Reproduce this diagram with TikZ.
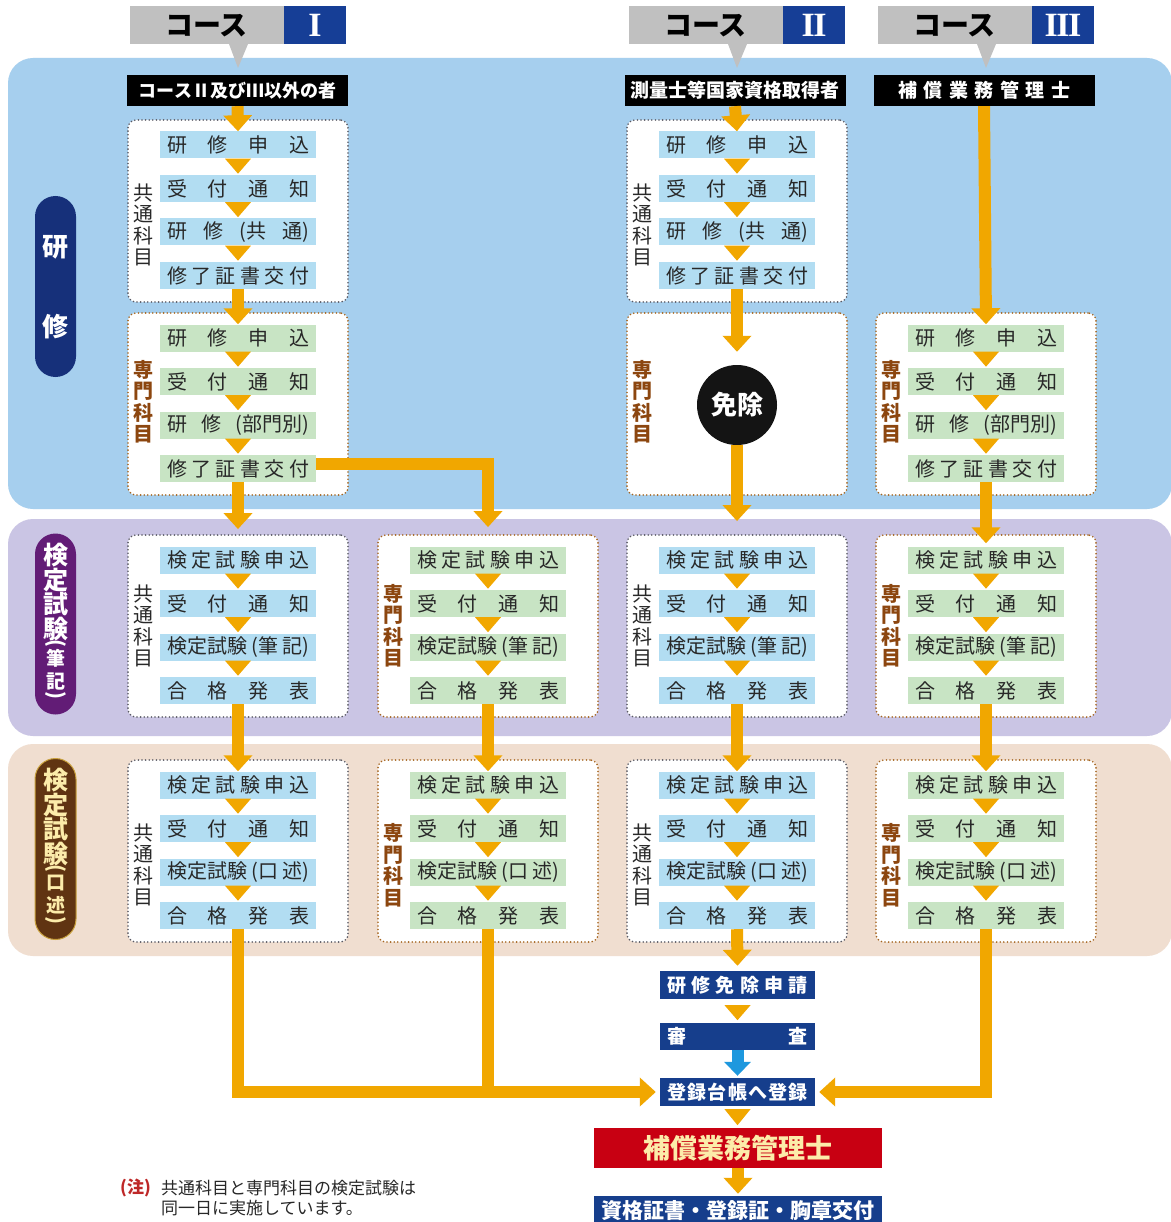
\documentclass[tikz,border=0pt]{standalone}
\usepackage{fontspec}
\setmainfont{Noto Sans CJK JP}
\newfontfamily\romfont{Liberation Serif}
\usetikzlibrary{arrows.meta,calc,shapes.geometric}
\definecolor{bandblue}{RGB}{166,207,238}
\definecolor{bandpurple}{RGB}{202,197,228}
\definecolor{bandtan}{RGB}{240,222,208}
\definecolor{itemblue}{RGB}{178,221,242}
\definecolor{itemgreen}{RGB}{200,228,196}
\definecolor{orng}{RGB}{241,167,0}
\definecolor{navy}{RGB}{22,48,122}
\definecolor{pillpurple}{RGB}{98,28,118}
\definecolor{pillbrown}{RGB}{96,52,18}
\definecolor{pillgold}{RGB}{200,160,60}
\definecolor{cream}{RGB}{252,236,170}
\definecolor{tabgray}{RGB}{192,192,192}
\definecolor{tabblue}{RGB}{22,62,150}
\definecolor{boxblue}{RGB}{22,62,140}
\definecolor{boxred}{RGB}{200,0,18}
\definecolor{skyb}{RGB}{30,152,222}
\definecolor{dotgray}{RGB}{90,90,100}
\definecolor{dotbrown}{RGB}{165,100,30}
\definecolor{labbrown}{RGB}{140,70,15}
\definecolor{txt}{RGB}{40,40,40}
\definecolor{notered}{RGB}{190,40,40}
\newcommand\sprd[2][142pt]{\makebox[#1][s]{#2}}
\newcommand\iKenMo{\sprd{研\hfill 修\hfill 申\hfill 込}}
\newcommand\iUke{\sprd{受\hfill 付\hfill 通\hfill 知}}
\newcommand\iKenKyo{\sprd{研\hfill 修\hfill (共\hfill 通)}}
\newcommand\iKenBu{\sprd{研\hfill 修\hfill (部門別)}}
\newcommand\iShu{\sprd{修\hfill 了\hfill 証\hfill 書\hfill 交\hfill 付}}
\newcommand\iKeMo{\sprd{検\hfill 定\hfill 試\hfill 験\hfill 申\hfill 込}}
\newcommand\iHik{\sprd{検定試験\hfill (筆\hfill 記)}}
\newcommand\iKou{\sprd{検定試験\hfill (口\hfill 述)}}
\newcommand\iGo{\sprd{合\hfill 格\hfill 発\hfill 表}}
\newcommand\labCtext{共\\通\\科\\目}
\newcommand\labStext{専\\門\\科\\目}
% #1 name, #2 cx, #3 top, #4 kind C/S, #5 label offset, #6-#9 items
\newcommand\grp[9]{%
  \node[grp#4] (#1) at (#2,#3+91) {};
  \node[lab#4] (#1-lab) at (#2-95,#3+#5) {\csname lab#4text\endcsname};
  \node[item#4] (#1-1) at (#2,#3+25) {#6};
  \node[item#4] (#1-2) at (#2,#3+68.5) {#7};
  \node[item#4] (#1-3) at (#2,#3+112) {#8};
  \node[item#4] (#1-4) at (#2,#3+155.5) {#9};
  \foreach \k in {1,2,3}{\fill[orng] ($(#1-\k.south)+(-13,0)$) -- ($(#1-\k.south)+(13,0)$) -- ($(#1-\k.south)+(0,15)$) -- cycle;}
}
\begin{document}
\begin{tikzpicture}[x=1pt,y=-1pt,
  itemC/.style={fill=itemblue, minimum width=156pt, minimum height=27pt, inner sep=0pt, text=txt, font=\fontsize{20}{20}\selectfont},
  itemS/.style={itemC, fill=itemgreen},
  grpC/.style={draw=dotgray, fill=white, line width=1.8pt, dash pattern=on 0pt off 3.6pt, line cap=round, rounded corners=8pt, minimum width=220pt, minimum height=182pt, inner sep=0pt},
  grpS/.style={grpC, draw=dotbrown},
  labC/.style={align=center, text=txt, font=\fontsize{20}{21.5}\selectfont, inner sep=0pt},
  labS/.style={labC, text=labbrown, font=\fontsize{20}{21.5}\selectfont\bfseries},
  oarr/.style={draw=orng, line width=12pt, -{Triangle[length=16pt,width=28pt]}},
  oline/.style={draw=orng, line width=12pt},
  tabg/.style={fill=tabgray, minimum width=154pt, minimum height=38pt, inner sep=0pt, text=black, font=\fontsize{28}{28}\selectfont\bfseries},
  tabb/.style={fill=tabblue, minimum width=62pt, minimum height=38pt, inner sep=0pt, text=white, font=\fontsize{34}{34}\selectfont},
  bar/.style={fill=black, minimum width=221pt, minimum height=31pt, inner sep=0pt, text=white, font=\fontsize{19}{19}\selectfont\bfseries},
  pill/.style={rounded corners=20.5pt, minimum width=41pt, minimum height=181pt, inner sep=0pt},
  pilltxt/.style={inner sep=0pt, align=center},
  bbox/.style={fill=boxblue, text=white, inner sep=0pt, font=\fontsize{19}{19}\selectfont\bfseries},
  notetxt/.style={anchor=west, inner sep=0pt, text=txt, font=\fontsize{17}{17}\selectfont}
]
\useasboundingbox (0,0) rectangle (1170,1222);
\fill[white] (0,0) rectangle (1170,1222);
% bands
\fill[bandblue, rounded corners=25pt] (8,58) rectangle (1172,509);
\fill[bandpurple, rounded corners=25pt] (8,519) rectangle (1172,736);
\fill[bandtan, rounded corners=25pt] (8,744) rectangle (1172,956);
% pills
\node[pill, fill=navy] (pill1) at (55.5,286.5) {};
\node[pilltxt, text=white, font=\fontsize{26}{26}\selectfont\bfseries] (p1a) at (55.5,247) {研};
\node[pilltxt, text=white, font=\fontsize{26}{26}\selectfont\bfseries] (p1b) at (55.5,327) {修};
\node[pill, fill=pillpurple] (pill2) at (55.5,624) {};
\node[pilltxt, text=white, font=\fontsize{25}{24.5}\selectfont\bfseries] (p2a) at (55.5,592) {検\\定\\試\\験};
\node[pilltxt, text=white, font=\fontsize{20}{20}\selectfont\bfseries] (p2o) at (55.5,645) {\rotatebox[origin=c]{-90}{(}};
\node[pilltxt, text=white, font=\fontsize{19}{23}\selectfont\bfseries] (p2b) at (55.5,670) {筆\\記};
\node[pilltxt, text=white, font=\fontsize{20}{20}\selectfont\bfseries] (p2c) at (55.5,697) {\rotatebox[origin=c]{-90}{)}};
\node[pill, fill=pillbrown, draw=pillgold, line width=1pt] (pill3) at (55.5,849) {};
\node[pilltxt, text=cream, font=\fontsize{25}{24.5}\selectfont\bfseries] (p3a) at (55.5,817) {検\\定\\試\\験};
\node[pilltxt, text=cream, font=\fontsize{20}{20}\selectfont\bfseries] (p3o) at (55.5,870) {\rotatebox[origin=c]{-90}{(}};
\node[pilltxt, text=cream, font=\fontsize{19}{23}\selectfont\bfseries] (p3b) at (55.5,895) {口\\述};
\node[pilltxt, text=cream, font=\fontsize{20}{20}\selectfont\bfseries] (p3c) at (55.5,922) {\rotatebox[origin=c]{-90}{)}};
% course tabs
\node[tabg] (t1g) at (206.5,25.5) {コース};
\node[tabb] (t1b) at (315,25.5) {\romfont\bfseries I};
\fill[tabgray] (229,44) -- (248,44) -- (238,68) -- cycle;
\node[tabg] (t2g) at (705.5,25.5) {コース};
\node[tabb] (t2b) at (814,25.5) {\romfont\bfseries I\kern-1.5pt I};
\fill[tabgray] (728,44) -- (747,44) -- (737,68) -- cycle;
\node[tabg] (t3g) at (954.5,25.5) {コース};
\node[tabb] (t3b) at (1063,25.5) {\romfont\bfseries I\kern-1.5pt I\kern-1.5pt I};
\fill[tabgray] (977,44) -- (996,44) -- (986,68) -- cycle;
% black bars
\node[bar, font=\fontsize{18}{18}\selectfont\bfseries] (bar1) at (237.5,90.5) {コースⅡ及びⅢ以外の者};
\node[bar] (bar2) at (735,90.5) {測量士等国家資格取得者};
\node[bar] (bar3) at (984,90.5) {\sprd[172pt]{補\hfill 償\hfill 業\hfill 務\hfill 管\hfill 理\hfill 士}};
% groups
\grp{c1a}{238}{120}{C}{105}{\iKenMo}{\iUke}{\iKenKyo}{\iShu}
\grp{c1b}{238}{313}{S}{89}{\iKenMo}{\iUke}{\iKenBu}{\iShu}
\grp{c1c}{238}{535}{C}{91}{\iKeMo}{\iUke}{\iHik}{\iGo}
\grp{c1d}{238}{760}{C}{105}{\iKeMo}{\iUke}{\iKou}{\iGo}
\grp{c2c}{488}{535}{S}{91}{\iKeMo}{\iUke}{\iHik}{\iGo}
\grp{c2d}{488}{760}{S}{105}{\iKeMo}{\iUke}{\iKou}{\iGo}
\grp{c3a}{737}{120}{C}{105}{\iKenMo}{\iUke}{\iKenKyo}{\iShu}
\node[grpS] (c3b) at (737,404) {};
\node[labS] (c3b-lab) at (642,402) {\labStext};
\grp{c3c}{737}{535}{C}{91}{\iKeMo}{\iUke}{\iHik}{\iGo}
\grp{c3d}{737}{760}{C}{105}{\iKeMo}{\iUke}{\iKou}{\iGo}
\grp{c4b}{986}{313}{S}{89}{\iKenMo}{\iUke}{\iKenBu}{\iShu}
\grp{c4c}{986}{535}{S}{91}{\iKeMo}{\iUke}{\iHik}{\iGo}
\grp{c4d}{986}{760}{S}{105}{\iKeMo}{\iUke}{\iKou}{\iGo}
\node[circle, fill=black!92, minimum size=80pt, inner sep=0pt, text=white, font=\fontsize{26}{26}\selectfont\bfseries] (menjo) at (737,405) {免除};
% bottom boxes
\node[bbox, minimum width=155pt, minimum height=28pt] (menreq) at (737.5,985) {\sprd[140pt]{研\hfill 修\hfill 免\hfill 除\hfill 申\hfill 請}};
\node[bbox, minimum width=155pt, minimum height=27pt] (shinsa) at (737.5,1036.5) {\sprd[140pt]{審\hfill 査}};
\node[bbox, minimum width=155pt, minimum height=28pt] (reg) at (737.5,1092) {\sprd[140pt]{登\hfill 録\hfill 台\hfill 帳\hfill へ\hfill 登\hfill 録}};
\node[fill=boxred, minimum width=288pt, minimum height=40pt, inner sep=0pt, text=cream, font=\fontsize{27}{27}\selectfont\bfseries] (qual) at (738,1148) {補償業務管理士};
\node[bbox, minimum width=288pt, minimum height=30pt, font=\fontsize{21}{21}\selectfont\bfseries] (cert) at (738,1211) {資格証書・登録証・胸章交付};
% arrows column 1
\draw[oarr] (bar1.south) -- (c1a-1.north);
\draw[oarr] (c1a-4.south) -- (c1b-1.north);
\draw[oarr] (c1b-4.south) -- ($(c1c.north)+(0,-5)$);
\draw[oarr] ($(c1b-4.east)+(0,-4.5)$) -| ($(c2c.north)+(0,-7)$);
\draw[oarr] (c1c-4.south) -- (c1d-1.north);
\draw[oarr] (c2c-4.south) -- (c2d-1.north);
% column 3
\draw[oarr] (bar2.south) -- (c3a-1.north);
\draw[oarr] (c3a-4.south) -- ($(menjo.north)+(0,-13)$);
\draw[oarr] (menjo.south) -- ($(c3c.north)+(0,-13)$);
\draw[oarr] (c3c-4.south) -- (c3d-1.north);
% column 4
\draw[oarr] (bar3.south) -- (c4b-1.north);
\draw[oarr] (c4b-4.south) -- ($(c4c-1.north)+(0,-3)$);
\draw[oarr] (c4c-4.south) -- (c4d-1.north);
% bottom routing
\draw[oline] (c2d-4.south) -- (c2d-4.south |- reg.west);
\draw[oarr] (c1d-4.south) |- ($(reg.west)+(-4,0)$);
\draw[oarr] (c4d-4.south) |- ($(reg.east)+(4,0)$);
\draw[oarr] (c3d-4.south) -- ($(menreq.north)+(0,-5)$);
\fill[orng] ($(menreq.south)+(-13,6)$) -- ($(menreq.south)+(13,6)$) -- ($(menreq.south)+(0,21)$) -- cycle;
\draw[draw=skyb, line width=12pt, -{Triangle[length=14pt,width=26pt]}] (shinsa.south) -- ($(reg.north)+(0,-2)$);
\fill[orng] ($(reg.south)+(-13,3)$) -- ($(reg.south)+(13,3)$) -- ($(reg.south)+(0,19)$) -- cycle;
\draw[oarr] (qual.south) -- ($(cert.north)+(0,-2)$);
% note
\node[notetxt, text=notered, font=\fontsize{17}{17}\selectfont\bfseries] (nt0) at (120,1188) {(注)};
\node[notetxt] (nt1) at (161,1188) {共通科目と専門科目の検定試験は};
\node[notetxt] (nt2) at (161,1208) {同一日に実施しています。};
\end{tikzpicture}
\end{document}
